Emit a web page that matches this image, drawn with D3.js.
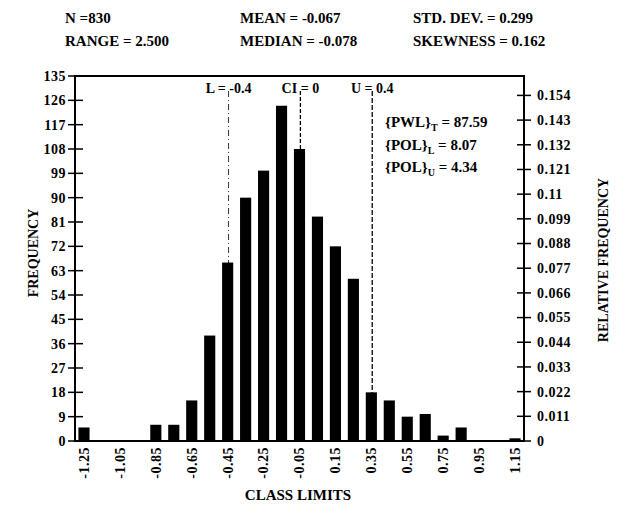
<!DOCTYPE html>
<html>
<head>
<meta charset="utf-8">
<script src="https://cdn.jsdelivr.net/npm/d3@7"></script>
<style>
  body { margin: 0; background: #fff; }
  svg { font-family: "Liberation Serif", "Times New Roman", serif; font-weight: bold; }
  .tick-label { font-size: 14px; letter-spacing: 0.5px; }
</style>
</head>
<body>
<svg width="617" height="506"></svg>
<script>
// class marks and frequencies
const classMarks = [-1.25, -1.15, -1.05, -0.95, -0.85, -0.75, -0.65, -0.55, -0.45, -0.35, -0.25,
  -0.15, -0.05, 0.05, 0.15, 0.25, 0.35, 0.45, 0.55, 0.65, 0.75, 0.85, 0.95, 1.05, 1.15];
const frequencies = [5, 0, 0, 0, 6, 6, 15, 39, 66, 90, 100,
  124, 108, 83, 72, 60, 18, 15, 9, 10, 2, 5, 0, 0, 1];
const classLabels = [-1.25, -1.05, -0.85, -0.65, -0.45, -0.25, -0.05, 0.15, 0.35, 0.55, 0.75, 0.95, 1.15];
const freqTicks = [0, 9, 18, 27, 36, 45, 54, 63, 72, 81, 90, 99, 108, 117, 126, 135];
const relTicks = [0, 0.011, 0.022, 0.033, 0.044, 0.055, 0.066, 0.077, 0.088, 0.099, 0.11, 0.121, 0.132, 0.143, 0.154];
const limitNames = ['L = -0.4', 'CI = 0', 'U = 0.4'];
const limitValues = [-0.4, 0, 0.4];
const statsLeft = ['N =830', 'RANGE = 2.500'];
const statsMid = ['MEAN = -0.067', 'MEDIAN = -0.078'];
const statsRight = ['STD. DEV. = 0.299', 'SKEWNESS = 0.162'];
const notes = [['{PWL}', 'T', ' = 87.59'], ['{POL}', 'L', ' = 8.07'], ['{POL}', 'U', ' = 4.34']];
const N = 830;
const binWidth = 0.1;

const plotL = 75, plotR = 524, plotT = 76, plotB = 441;
const svg = d3.select('svg');

const x = d3.scaleLinear().domain([-1.30, 1.20]).range([plotL, plotR]);
const y = d3.scaleLinear().domain([0, 135]).range([plotB, plotT]);
const yRel = d3.scaleLinear().domain([0, 135 / N]).range([plotB, plotT]);

// header statistics
[[statsLeft, 65], [statsMid, 240], [statsRight, 413]].forEach(([lines, px]) => {
  svg.selectAll(null)
    .data(lines)
    .enter()
    .append('text')
    .attr('x', px)
    .attr('y', (d, i) => 23 + i * 23)
    .attr('font-size', 15)
    .text(d => d);
});

// limit lines (drawn at the class mark, as in the original)
const limitShift = -0.045;
const dashes = ['6,3,1,3', '4,2', '5,2'];
svg.selectAll('.limit')
  .data(limitValues)
  .enter()
  .append('line')
  .attr('class', 'limit')
  .attr('x1', d => x(d + limitShift))
  .attr('x2', d => x(d + limitShift))
  .attr('y1', 91)
  .attr('y2', plotB)
  .attr('stroke', '#000')
  .attr('stroke-width', (d, i) => i === 0 ? 0.8 : 1.3)
  .attr('stroke-dasharray', (d, i) => dashes[i]);

svg.selectAll('.limit-label')
  .data(limitValues)
  .enter()
  .append('text')
  .attr('x', d => x(d + limitShift))
  .attr('y', 93)
  .attr('text-anchor', 'middle')
  .attr('font-size', 14)
  .attr('fill', '#000')
  .text((d, i) => limitNames[i]);

// bars
const barW = x(binWidth * 0.62) - x(0);
svg.selectAll('.bar')
  .data(classMarks.map((c, i) => ({ c, f: frequencies[i] })))
  .enter()
  .append('rect')
  .attr('class', 'bar')
  .attr('x', d => x(d.c) - barW / 2)
  .attr('y', d => y(d.f))
  .attr('width', barW)
  .attr('height', d => plotB - y(d.f))
  .attr('fill', '#000');

// frame
svg.append('path')
  .attr('d', `M${plotL},${plotB}V${plotT}H${plotR}V${plotB}Z`)
  .attr('fill', 'none')
  .attr('stroke', '#000')
  .attr('stroke-width', 2);

// left axis, ticks cross the axis
const gl = svg.append('g').attr('transform', `translate(${plotL},0)`);
gl.selectAll('line')
  .data(freqTicks)
  .enter()
  .append('line')
  .attr('x1', -7).attr('x2', 8)
  .attr('y1', d => y(d)).attr('y2', d => y(d))
  .attr('stroke', '#000')
  .attr('stroke-width', 1.5);
gl.selectAll('text')
  .data(freqTicks)
  .enter()
  .append('text')
  .attr('class', 'tick-label')
  .attr('x', -9)
  .attr('y', d => y(d))
  .attr('dy', '0.35em')
  .attr('text-anchor', 'end')
  .text(d => d);

// right axis, relative frequency
const gr = svg.append('g').attr('transform', `translate(${plotR},0)`);
gr.selectAll('line')
  .data(relTicks)
  .enter()
  .append('line')
  .attr('x1', -7).attr('x2', 7)
  .attr('y1', d => yRel(d)).attr('y2', d => yRel(d))
  .attr('stroke', '#000')
  .attr('stroke-width', 1.5);
gr.selectAll('text')
  .data(relTicks)
  .enter()
  .append('text')
  .attr('class', 'tick-label')
  .attr('x', 13)
  .attr('y', d => yRel(d))
  .attr('dy', '0.35em')
  .text(d => d);

// bottom labels, rotated
svg.selectAll('.xlab')
  .data(classLabels)
  .enter()
  .append('text')
  .attr('class', 'tick-label')
  .attr('transform', d => `translate(${x(d)},447) rotate(-90)`)
  .attr('dy', '0.35em')
  .attr('text-anchor', 'end')
  .text(d => d.toFixed(2));

// axis titles
svg.append('text')
  .attr('x', 298).attr('y', 500)
  .attr('text-anchor', 'middle')
  .attr('font-size', 15)
  .text('CLASS LIMITS');
svg.append('text')
  .attr('transform', 'translate(33,253) rotate(-90)')
  .attr('dy', '0.35em')
  .attr('text-anchor', 'middle')
  .attr('font-size', 14)
  .text('FREQUENCY');
svg.append('text')
  .attr('transform', 'translate(603,260) rotate(-90)')
  .attr('dy', '0.35em')
  .attr('text-anchor', 'middle')
  .attr('font-size', 14)
  .text('RELATIVE FREQUENCY');

// percent-within / percent-outside limits notes
const nt = svg.selectAll('.note')
  .data(notes)
  .enter()
  .append('text')
  .attr('class', 'note')
  .attr('x', 385)
  .attr('y', (d, i) => 127 + i * 22.5)
  .attr('font-size', 15);
nt.append('tspan').text(d => d[0]);
nt.append('tspan').attr('font-size', 10).attr('dy', 4).text(d => d[1]);
nt.append('tspan').attr('dy', -4).text(d => d[2]);
</script>
</body>
</html>
